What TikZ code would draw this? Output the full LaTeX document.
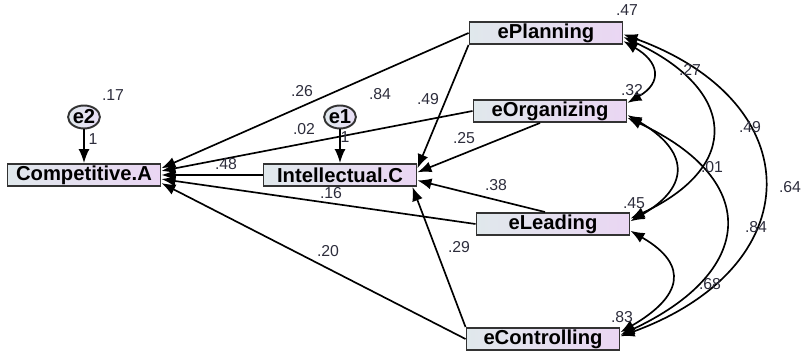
\documentclass[tikz,border=0pt]{standalone}
\usepackage{fontspec}
\setmainfont{Liberation Sans}
\usetikzlibrary{arrows.meta,shapes.geometric}
\definecolor{boxleft}{RGB}{224,232,236}
\definecolor{boxright}{RGB}{234,214,243}
\definecolor{errfill}{RGB}{232,222,246}
\definecolor{numcol}{RGB}{45,45,60}
\tikzset{
	var/.style={draw=black!80, line width=1.1pt, left color=boxleft, right color=boxright,
		minimum width=3.06cm, minimum height=0.44cm, inner sep=0pt,
		font=\fontsize{11.5}{12}\selectfont\bfseries},
	err/.style={ellipse, draw=black!80, line width=1.1pt, left color=boxleft, right color=errfill,
		minimum width=0.62cm, minimum height=0.46cm, inner sep=0pt,
		font=\fontsize{11.5}{12}\selectfont\bfseries},
	est/.style={font=\fontsize{9}{10}\selectfont, text=numcol, inner sep=0pt},
	reg/.style={line width=0.95pt, -{Latex[length=2.8mm,width=2.2mm]}},
	cov/.style={line width=0.95pt, {Latex[length=2.8mm,width=2.2mm]}-{Latex[length=2.8mm,width=2.2mm]}}
}
\begin{document}
\begin{tikzpicture}[x=0.2mm, y=0.2mm]
	\useasboundingbox (0, 0) rectangle (803, -353);
	% Variables and error terms:
	\node[var](compA) at (84, -175){Competitive.A};
	\node[var](intel) at (340, -175){Intellectual.C};
	\node[var](plan) at (546, -33){ePlanning};
	\node[var](org) at (550, -111){eOrganizing};
	\node[var](lead) at (553, -224){eLeading};
	\node[var](ctrl) at (543, -339){eControlling};
	\node[err](e2) at (84, -117){e2};
	\node[err](e1) at (340, -117){e1};
	% Regression paths:
	\draw[reg] (e2) -- (compA);
	\draw[reg] (e1) -- (intel);
	\draw[reg] (plan.west) -- (compA.5);
	\draw[reg] (org.west) -- (compA.3);
	\draw[reg] (intel.west) -- (compA.east);
	\draw[reg] (lead.west) -- (compA.-3);
	\draw[reg] (ctrl.west) -- (compA.-6);
	\draw[reg] (plan.south west) -- (intel.5);
	\draw[reg] ([xshift=-2mm]org.south) -- (intel.2);
	\draw[reg] ([xshift=-1.6mm]lead.north) -- (intel.-4);
	\draw[reg] (ctrl.north west) -- ([xshift=-1mm]intel.south east);
	% Covariances:
	\draw[cov] (plan.-6) to[out=-30, in=30, looseness=1.7] (org.6);
	\draw[cov] (plan.-3) to[out=-25, in=25, looseness=1.75] (lead.4);
	\draw[cov] (plan.-1) to[out=-20, in=20, looseness=1.7] (ctrl.2);
	\draw[cov] (org.-3) to[out=-30, in=30, looseness=1.7] (lead.2);
	\draw[cov] (org.-5) to[out=-25, in=25, looseness=1.75] (ctrl.3);
	\draw[cov] (lead.-5) to[out=-30, in=30, looseness=1.75] (ctrl.5);
	% Estimates:
	\node[est](r2A) at (113, -95){.17};
	\node[est](r2C) at (380, -94){.84};
	\node[est](vP) at (627, -10){.47};
	\node[est](vO) at (632, -90){.32};
	\node[est](vL) at (634, -203){.45};
	\node[est](vC) at (622, -317){.83};
	\node[est](w2) at (93, -139){1};
	\node[est](w1) at (345, -137){1};
	\node[est](bPA) at (302, -91){.26};
	\node[est](bPC) at (428, -99){.49};
	\node[est](bOA) at (304, -129){.02};
	\node[est](bCA) at (226, -164){.48};
	\node[est](bOC) at (464, -138){.25};
	\node[est](bLA) at (331, -193){.16};
	\node[est](bLC) at (496, -185){.38};
	\node[est](bTA) at (328, -251){.20};
	\node[est](bTC) at (459, -247){.29};
	\node[est](cPO) at (690, -70){.27};
	\node[est](cPL) at (750, -127){.49};
	\node[est](cPT) at (790, -187){.64};
	\node[est](cOL) at (712, -167){.01};
	\node[est](cOT) at (756, -227){.84};
	\node[est](cLT) at (710, -284){.68};
\end{tikzpicture}
\end{document}
